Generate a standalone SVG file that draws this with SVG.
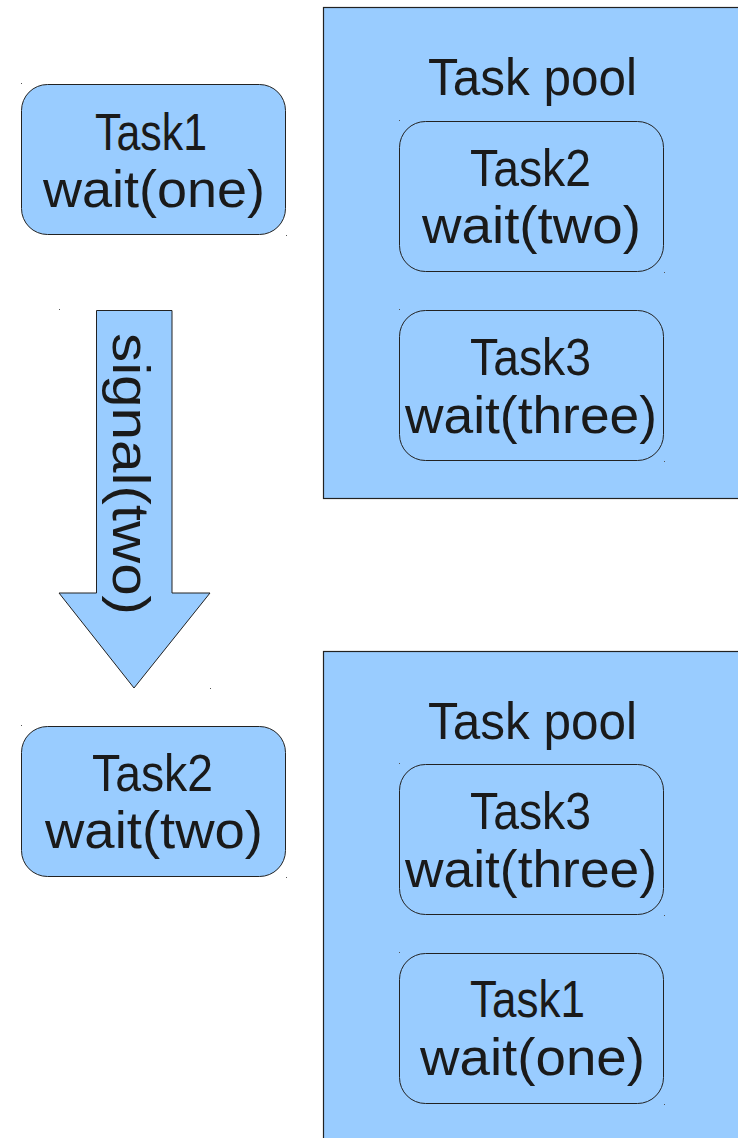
<svg xmlns="http://www.w3.org/2000/svg" width="738" height="1138" viewBox="0 0 738 1138">
  <style>
    .box { fill: #99ccff; stroke: #222; stroke-width: 1; }
    .pool { fill: #99ccff; stroke: #222; stroke-width: 1.2; }
    .lbl { font-family: "Liberation Sans", Arial, sans-serif; font-size: 52px; fill: #1a1a1a; text-anchor: middle; }
    .mark { fill: #555; }
  </style>
  <rect width="738" height="1138" fill="#ffffff"/>

  <!-- Upper state -->
  <g id="task1-running">
    <rect class="box" x="21.5" y="84.5" width="264" height="150" rx="26"/>
    <text class="lbl" x="151" y="150" textLength="112" lengthAdjust="spacingAndGlyphs">Task1</text>
    <text class="lbl" x="154" y="207" textLength="222" lengthAdjust="spacingAndGlyphs">wait(one)</text>
  </g>

  <g id="pool-1">
    <rect class="pool" x="323.5" y="7.5" width="420" height="491"/>
    <text class="lbl" x="532.5" y="95" textLength="209" lengthAdjust="spacingAndGlyphs">Task pool</text>
    <g id="pool-1-task2">
      <rect class="box" x="399.5" y="121.5" width="264" height="150" rx="26"/>
      <text class="lbl" x="530.5" y="186" textLength="121" lengthAdjust="spacingAndGlyphs">Task2</text>
      <text class="lbl" x="531.5" y="243" textLength="219" lengthAdjust="spacingAndGlyphs">wait(two)</text>
    </g>
    <g id="pool-1-task3">
      <rect class="box" x="399.5" y="310.5" width="264" height="150" rx="26"/>
      <text class="lbl" x="530.5" y="375" textLength="121" lengthAdjust="spacingAndGlyphs">Task3</text>
      <text class="lbl" x="531" y="433" textLength="252" lengthAdjust="spacingAndGlyphs">wait(three)</text>
    </g>
  </g>

  <!-- Transition -->
  <g id="connectors">
    <polygon class="box" points="96.5,310.5 172,310.5 172,593 210,593 134,688 59,593 96.5,593"/>
    <text class="lbl" transform="translate(113,474) rotate(90)" textLength="282" lengthAdjust="spacingAndGlyphs">signal(two)</text>
  </g>

  <!-- Lower state -->
  <g id="task2-running">
    <rect class="box" x="21.5" y="726.5" width="264" height="150" rx="26"/>
    <text class="lbl" x="152.5" y="791" textLength="121" lengthAdjust="spacingAndGlyphs">Task2</text>
    <text class="lbl" x="154" y="848" textLength="218" lengthAdjust="spacingAndGlyphs">wait(two)</text>
  </g>

  <g id="pool-2">
    <rect class="pool" x="323.5" y="651.5" width="420" height="500"/>
    <text class="lbl" x="532.5" y="739" textLength="209" lengthAdjust="spacingAndGlyphs">Task pool</text>
    <g id="pool-2-task3">
      <rect class="box" x="399.5" y="764.5" width="264" height="150" rx="26"/>
      <text class="lbl" x="530.5" y="829" textLength="121" lengthAdjust="spacingAndGlyphs">Task3</text>
      <text class="lbl" x="531" y="887" textLength="252" lengthAdjust="spacingAndGlyphs">wait(three)</text>
    </g>
    <g id="pool-2-task1">
      <rect class="box" x="399.5" y="953.5" width="264" height="150" rx="26"/>
      <text class="lbl" x="527.5" y="1017" textLength="115" lengthAdjust="spacingAndGlyphs">Task1</text>
      <text class="lbl" x="532.5" y="1075" textLength="225" lengthAdjust="spacingAndGlyphs">wait(one)</text>
    </g>
  </g>

  <!-- Bounding-box corner marks -->
  <g id="corner-marks" class="mark">
    <rect x="21" y="83" width="1" height="1"/>
    <rect x="286" y="235" width="1" height="1"/>
    <rect x="399" y="120" width="1" height="1"/>
    <rect x="664" y="272" width="1" height="1"/>
    <rect x="399" y="309" width="1" height="1"/>
    <rect x="664" y="461" width="1" height="1"/>
    <rect x="59" y="309" width="1" height="1"/>
    <rect x="210" y="688" width="1" height="1"/>
    <rect x="21" y="725" width="1" height="1"/>
    <rect x="286" y="877" width="1" height="1"/>
    <rect x="399" y="763" width="1" height="1"/>
    <rect x="664" y="915" width="1" height="1"/>
    <rect x="399" y="952" width="1" height="1"/>
    <rect x="664" y="1104" width="1" height="1"/>
  </g>
</svg>
